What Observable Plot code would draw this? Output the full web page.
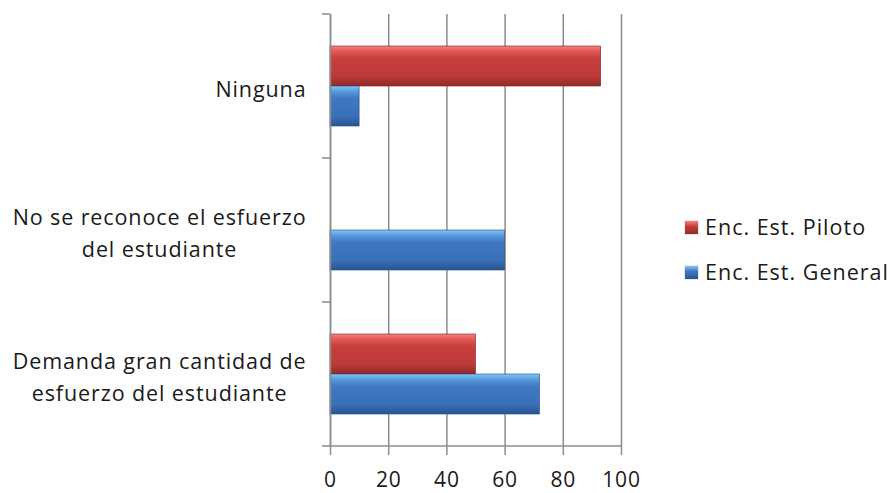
<!DOCTYPE html>
<html><head><meta charset="utf-8">
<script src="https://cdn.jsdelivr.net/npm/d3@7"></script>
<script src="https://cdn.jsdelivr.net/npm/@observablehq/plot@0.6"></script>
<style>
body{margin:0;background:#fff;font-family:"Open Sans",sans-serif}
#wrap{position:relative;width:892px;height:493px}
.legend{position:absolute;left:685px;font-size:21.5px;line-height:26px;color:#1a1a1a;display:flex;align-items:center;white-space:nowrap;letter-spacing:1px}
.sw{width:13px;height:13px;margin-right:7px;box-shadow:0 0 1px rgba(0,0,0,.5)}
</style></head><body>
<div id="wrap"></div>
<script>
const categories = ["Ninguna", "No se reconoce el esfuerzo\ndel estudiante", "Demanda gran cantidad de\nesfuerzo del estudiante"];
const series = ["Enc. Est. Piloto", "Enc. Est. General"];
const piloto = [93, 0, 50];
const general = [10, 60, 72];
const xTicks = [0, 20, 40, 60, 80, 100];

const pilotoRows = categories.map((c, i) => ({category: c, series: series[0], value: piloto[i]}));
const generalRows = categories.map((c, i) => ({category: c, series: series[1], value: general[i]}));

const grid = "#8c8c8c";
const txt = "#1a1a1a";

const boundaryMark = (index, scales, values, dim) => {
  const g = d3.create("svg:g");
  const top = dim.marginTop, bottom = dim.height - dim.marginBottom;
  const left = dim.marginLeft, right = dim.width - dim.marginRight;
  const n = categories.length;
  for (let k = 0; k <= n; k++) {
    const yy = top + k * (bottom - top) / n;
    g.append("line").attr("x1", left - 8).attr("x2", left).attr("y1", yy).attr("y2", yy)
      .attr("stroke", grid).attr("stroke-width", 1.5);
  }
  g.append("line").attr("x1", left).attr("x2", right).attr("y1", bottom).attr("y2", bottom)
    .attr("stroke", grid).attr("stroke-width", 1.5);
  return g.node();
};

const chart = Plot.plot({
  width: 892,
  height: 493,
  marginLeft: 330,
  marginRight: 271,
  marginTop: 14,
  marginBottom: 47,
  style: {fontFamily: "'Open Sans', sans-serif", background: "white"},
  x: {domain: [0, 100]},
  y: {domain: categories, paddingInner: 64 / 144, paddingOuter: 32 / 144},
  marks: [
    Plot.gridX(xTicks, {stroke: grid, strokeOpacity: 1, strokeWidth: 1.5}),
    Plot.barX(pilotoRows, {x: "value", y: "category", fill: "url(#gradRed)", insetBottom: 40,
      stroke: "#7a2020", strokeWidth: 0.6}),
    Plot.barX(generalRows, {x: "value", y: "category", fill: "url(#gradBlue)", insetTop: 40,
      stroke: "#23497e", strokeWidth: 0.6}),
    Plot.ruleX([0], {stroke: grid, strokeWidth: 1.5}),
    boundaryMark,
    Plot.axisX({ticks: xTicks, tickSize: 9, tickPadding: 17, fontSize: 21, stroke: grid, strokeWidth: 1.5, fill: txt, label: null}),
    Plot.axisY({tickSize: 0, tickPadding: 24, fontSize: 21.5, lineHeight: 1.48, fill: txt, label: null})
  ]
});

const defs = d3.select(chart).insert("defs", ":first-child");
function grad(id, stops) {
  const lg = defs.append("linearGradient").attr("id", id).attr("x1", 0).attr("x2", 0).attr("y1", 0).attr("y2", 1);
  stops.forEach(([o, c]) => lg.append("stop").attr("offset", o).attr("stop-color", c));
}
grad("gradRed", [[0, "#f58080"], [0.12, "#e35a58"], [0.3, "#c83f3d"], [0.75, "#bd3a39"], [1, "#8e2a29"]]);
grad("gradBlue", [[0, "#86c6f7"], [0.12, "#5a9ee0"], [0.3, "#3f79c2"], [0.75, "#3a71b8"], [1, "#285490"]]);

const wrap = document.getElementById("wrap");
wrap.appendChild(chart);

// Excel-like spacing and centering of multi-line category labels
const yLabels = d3.select(chart).select("g[aria-label='y-axis tick label']");
yLabels.style("letter-spacing", "0.9px");
yLabels.selectAll("text").each(function() {
  const ts = Array.from(this.querySelectorAll("tspan"));
  if (ts.length < 2) return;
  const ws = ts.map(t => t.getComputedTextLength());
  const W = Math.max(...ws);
  ts.forEach((t, i) => t.setAttribute("x", -(W - ws[i]) / 2));
});
d3.select(chart).select("g[aria-label='x-axis tick label']").style("letter-spacing", "0.8px");

const legendColors = ["linear-gradient(#f58080,#c83f3d 40%,#8e2a29)", "linear-gradient(#86c6f7,#3f79c2 40%,#285490)"];
const legendTops = [214, 259];
series.forEach((s, i) => {
  const d = document.createElement("div");
  d.className = "legend";
  d.style.top = legendTops[i] + "px";
  const sw = document.createElement("span");
  sw.className = "sw";
  sw.style.background = legendColors[i];
  d.appendChild(sw);
  d.appendChild(document.createTextNode(s));
  wrap.appendChild(d);
});
</script>
</body></html>
